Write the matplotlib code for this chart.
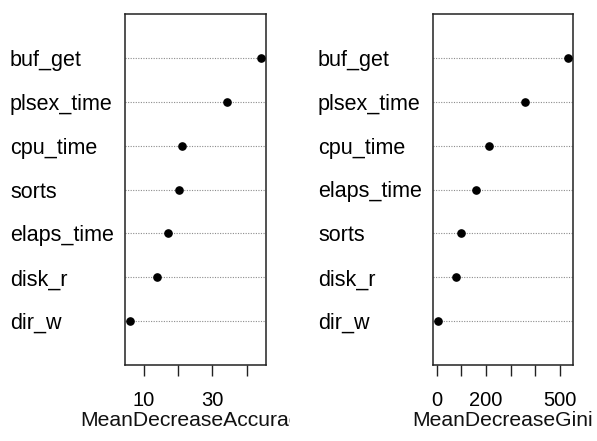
import matplotlib
matplotlib.use("Agg")
import matplotlib.pyplot as plt
from matplotlib.transforms import Bbox, TransformedBbox
import numpy as np

plt.rcParams['font.family'] = ['Liberation Sans', 'DejaVu Sans']

# variable importance (randomForest varImpPlot style)
acc_labels = ['buf_get', 'plsex_time', 'cpu_time', 'sorts', 'elaps_time', 'disk_r', 'dir_w']
acc_values = [44.1, 34.2, 21.0, 20.2, 17.0, 13.9, 6.0]
acc_ticks = [10, 20, 30, 40]
acc_ticklabels = ['10', '', '30', '']

gini_labels = ['buf_get', 'plsex_time', 'cpu_time', 'elaps_time', 'sorts', 'disk_r', 'dir_w']
gini_values = [531, 357, 213, 161, 100, 79, 6]
gini_ticks = [0, 100, 200, 300, 400, 500]
gini_ticklabels = ['0', '', '200', '', '', '500']

W, H = 597, 441
fig = plt.figure(figsize=(W / 100, H / 100), dpi=100)

def dotpanel(rect, labels, values, ticks, ticklabels, xlabel, clip_right):
    ax = fig.add_axes(rect)
    n = len(values)
    ypos = np.arange(n, 0, -1)
    for y in ypos:
        ax.axhline(y, color='#8c8c8c', ls=(0, (1, 1.3)), lw=0.8, zorder=1)
    ax.plot(values, ypos, 'o', color='black', ms=5.2, zorder=3)
    lo, hi = min(values), max(values)
    pad = 0.04 * (hi - lo)
    ax.set_xlim(lo - pad, hi + pad)
    ax.set_ylim(0, n + 1)
    ax.set_yticks(ypos)
    ax.set_yticklabels(labels, fontsize=15.5)
    for t in ax.get_yticklabels():
        t.set_horizontalalignment('left')
    ax.tick_params(axis='y', length=0, pad=82.8)
    ax.set_xticks(ticks)
    ax.set_xticklabels(ticklabels, fontsize=14.5)
    ax.tick_params(axis='x', direction='out', length=8, width=1.0, pad=11, color='#222222')
    for s in ax.spines.values():
        s.set_linewidth(1.1)
        s.set_color('#222222')
    lab = ax.set_xlabel(xlabel, fontsize=15.2, labelpad=0.5, color='#111111')
    # R clips the axis title at the figure region edge
    lab.set_clip_box(TransformedBbox(Bbox([[0, 0], [clip_right, 1]]), fig.transFigure))
    lab.set_clip_on(True)
    return ax

dotpanel([125 / W, 1 - 365 / H, 141 / W, 351 / H], acc_labels, acc_values,
         acc_ticks, acc_ticklabels, 'MeanDecreaseAccuracy', 290 / W)
dotpanel([433 / W, 1 - 365 / H, 140 / W, 351 / H], gini_labels, gini_values,
         gini_ticks, gini_ticklabels, 'MeanDecreaseGini', 1.0)

fig.savefig('out.png', dpi=100)
